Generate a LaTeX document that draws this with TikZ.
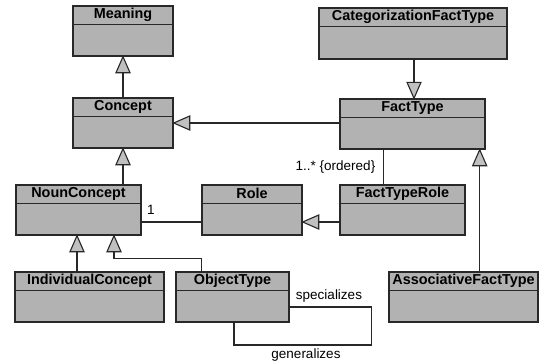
\documentclass[tikz,border=0pt]{standalone}
\usepackage{fontspec}
\setmainfont{Liberation Sans}
\usetikzlibrary{calc}
\definecolor{boxfill}{RGB}{178,178,178}
\definecolor{trifill}{RGB}{192,192,192}
\definecolor{edge}{RGB}{40,40,40}
\tikzset{
  umlclass/.style={draw=edge,fill=boxfill,line width=1.4pt,rectangle,inner sep=0pt},
  hdr/.style={font=\fontsize{14.4}{15}\selectfont\bfseries,text=black},
  lbl/.style={font=\fontsize{13.5}{15}\selectfont,text=black,inner sep=0pt},
  conn/.style={draw=edge,line width=1.1pt},
  tri/.style={draw=edge,fill=trifill,line width=1.1pt,line join=miter},
}
\newcommand{\umlbox}[5]{% name, cx, cy, w, h
  \node[umlclass,minimum width=#4pt,minimum height=#5pt] (#1) at (#2,#3) {};
  \draw[edge,line width=1.3pt] ([yshift=-19pt]#1.north west) -- ([yshift=-19pt]#1.north east);
}
% triangles: tip point, pointing up / down / left
\newcommand{\triup}[1]{\draw[tri] #1 -- ++(-7,16) -- ++(14,0) -- cycle;}
\newcommand{\tridown}[1]{\draw[tri] #1 -- ++(-7,-16) -- ++(14,0) -- cycle;}
\newcommand{\trileft}[1]{\draw[tri] #1 -- ++(16,-7) -- ++(0,14) -- cycle;}
\begin{document}
\begin{tikzpicture}[x=1pt,y=-1pt]
\useasboundingbox (0,0) rectangle (539,364);
\fill[white] (0,0) rectangle (539,364);
% classes
\umlbox{Meaning}{123}{31}{100}{50}
\umlbox{Concept}{123}{123}{100}{50}
\umlbox{CFT}{413}{33.5}{188}{51}
\umlbox{FactType}{412.5}{124}{145}{50}
\umlbox{NounConcept}{78.5}{210}{125}{50}
\umlbox{Role}{252}{210}{100}{50}
\umlbox{FactTypeRole}{402.5}{210}{125}{50}
\umlbox{IndividualConcept}{89.5}{297}{149}{50}
\umlbox{ObjectType}{232.5}{297}{113}{50}
\umlbox{AFT}{463.5}{297}{149}{50}
% header texts
\node[hdr] at ([yshift=-9.5pt]Meaning.north) {Meaning};
\node[hdr] at ([yshift=-9.5pt]Concept.north) {Concept};
\node[hdr] at ([yshift=-9.5pt]CFT.north) {CategorizationFactType};
\node[hdr] at ([yshift=-9.5pt]FactType.north) {FactType};
\node[hdr] at ([yshift=-9.5pt]NounConcept.north) {NounConcept};
\node[hdr] at ([yshift=-9.5pt]Role.north) {Role};
\node[hdr] at ([yshift=-9.5pt]FactTypeRole.north) {FactTypeRole};
\node[hdr] at ([yshift=-9.5pt]IndividualConcept.north) {IndividualConcept};
\node[hdr] at ([yshift=-9.5pt]ObjectType.north) {ObjectType};
\node[hdr] at ([yshift=-9.5pt]AFT.north) {AssociativeFactType};
% generalization lines
\draw[conn] (Concept.north) -- (Meaning.south);
\draw[conn] (Concept.south |- NounConcept.north) -- (Concept.south);
\draw[conn] ([xshift=1pt]CFT.south) -- ([xshift=1pt]CFT.south |- FactType.north);
\draw[conn] ([yshift=1pt]FactType.west) -- ([yshift=1pt]FactType.west -| Concept.east);
\draw[conn] ([xshift=-6pt]FactType.south east |- AFT.north) -- ([xshift=-6pt]FactType.south east);
\draw[conn] ([yshift=-12pt]FactTypeRole.west) -- ([yshift=-12pt]FactTypeRole.west -| Role.east);
\draw[conn] ([xshift=-1.5pt]NounConcept.south |- IndividualConcept.north) -- ([xshift=-1.5pt]NounConcept.south);
\draw[conn] ([xshift=26pt]ObjectType.north west) -- ++(0,-13) -| ([xshift=35.5pt]NounConcept.south);
% generalization heads
\triup{(Meaning.south)}
\triup{(Concept.south)}
\tridown{([xshift=1pt]CFT.south |- FactType.north)}
\trileft{([yshift=1pt]FactType.west -| Concept.east)}
\triup{([xshift=-6pt]FactType.south east)}
\trileft{([yshift=-12pt]FactTypeRole.west -| Role.east)}
\triup{([xshift=-1.5pt]NounConcept.south)}
\triup{([xshift=35.5pt]NounConcept.south)}
% associations
\draw[conn] ([xshift=44pt]FactTypeRole.north west) -- ([xshift=44pt]FactTypeRole.north west |- FactType.south);
\draw[conn] ([yshift=-12pt]NounConcept.east) -- ([yshift=-12pt]NounConcept.east -| Role.west);
\draw[conn] ([yshift=-10pt]ObjectType.east) -- ++(82,0) -- ++(0,38) -| ([xshift=1.5pt]ObjectType.south);
% labels
\node[lbl] (mult1) at (335.5,167) {1..* \{ordered\}};
\node[lbl] (mult2) at (151,210) {1};
\node[lbl] (spec) at (329,296) {specializes};
\node[lbl] (gen) at (306,355) {generalizes};
\end{tikzpicture}
\end{document}
